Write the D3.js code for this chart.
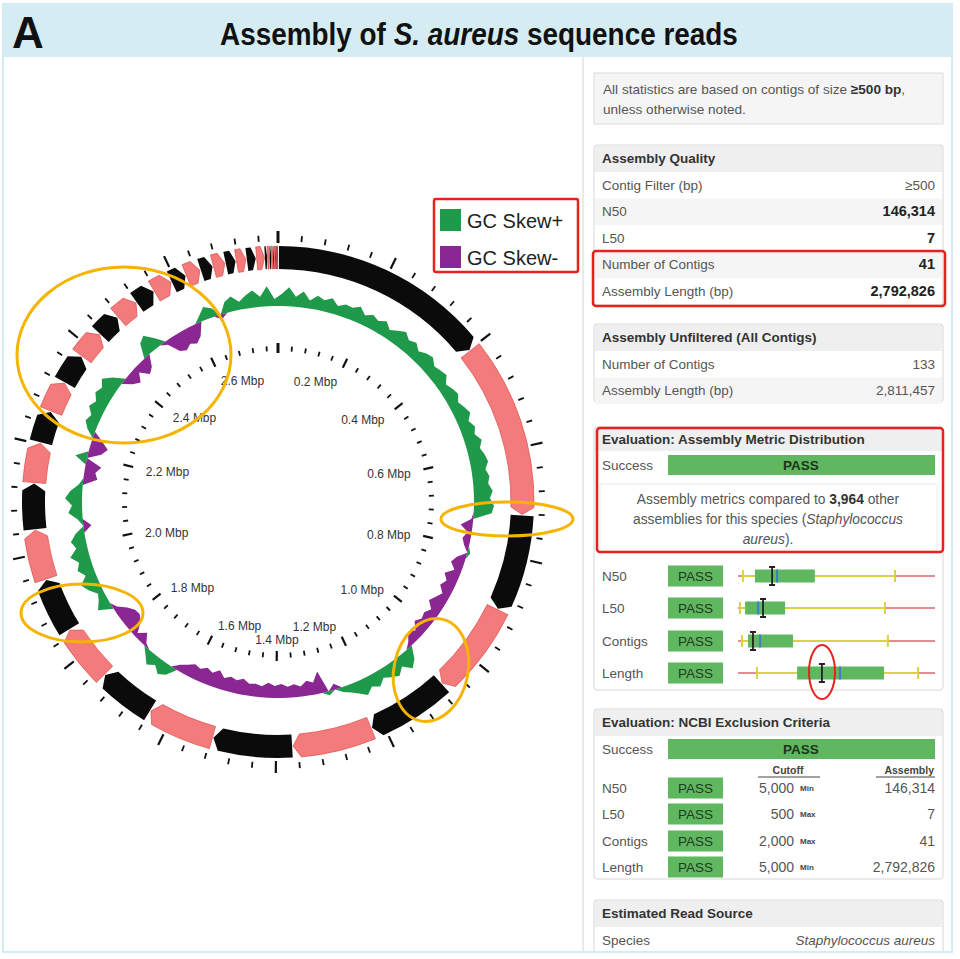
<!DOCTYPE html>
<html>
<head>
<meta charset="utf-8">
<script src="https://cdn.jsdelivr.net/npm/d3@7"></script>
<style>
  body { margin: 0; background: #fff; }
  svg { display: block; font-family: "Liberation Sans", Arial, sans-serif; }
</style>
</head>
<body>
<svg id="chart" width="960" height="959"></svg>
<script>
// genome + contigs (bp), largest first
const genomeLength = 2792826;
const contigLengths = [400000, 321000, 178000, 170000, 152000, 148000, 146314, 124000, 106000, 104000,
  101000, 93000, 85000, 74000, 60000, 58000, 57000, 52000, 45000, 43000,
  38000, 36000, 29000, 28000, 24000, 23000, 20000, 19000, 18000, 16000,
  5000, 4100, 3300, 2700, 2200, 1900, 1600, 1300, 1000, 800, 612];

// GC skew per window (180 windows round the genome)
const gcSkew = [
  0.12, 0.19, 0.10, 0.16, 0.08, 0.14, 0.11, 0.15, 0.09, 0.13,
  0.12, 0.16, 0.10, 0.14, 0.11, 0.15, 0.09, 0.13, 0.17, 0.12,
  0.15, 0.10, 0.14, 0.16, 0.11, 0.13, 0.15, 0.09, 0.12, 0.14,
  0.10, 0.13, 0.16, 0.11, 0.15, 0.12, 0.17, 0.13, 0.16, 0.18,
  0.14, 0.17, 0.15, 0.19, 0.16, 0.20, 0.18, -0.02, -0.12, -0.04,
  -0.08, -0.05, 0.03, -0.09, -0.13, -0.07, -0.15, -0.10, -0.14, -0.08,
  -0.12, -0.16, -0.09, -0.13, -0.11, -0.15, -0.08, -0.12, -0.05, 0.12,
  0.18, 0.10, 0.16, 0.13, 0.09, 0.15, 0.11, 0.17, 0.12, 0.08,
  0.05, -0.06, 0.04, -0.22, -0.12, -0.15, -0.10, -0.13, -0.11, -0.14,
  -0.12, -0.15, -0.11, -0.13, -0.12, -0.16, -0.13, -0.15, -0.12, -0.18,
  -0.13, -0.16, -0.12, -0.14, -0.10, -0.06, 0.10, 0.14, 0.08, 0.13,
  0.06, -0.03, -0.11, -0.04, -0.14, -0.18, -0.17, -0.12, -0.04, 0.14,
  0.09, 0.06, 0.13, 0.18, 0.10, 0.16, 0.12, 0.19, 0.11, 0.15,
  0.09, -0.08, 0.05, 0.14, 0.10, 0.17, 0.12, 0.04, -0.14, -0.11,
  -0.16, 0.12, -0.13, -0.18, -0.10, 0.08, 0.13, 0.10, 0.16, 0.12,
  0.17, 0.14, 0.19, 0.11, -0.09, -0.14, -0.06, -0.15, -0.11, 0.14,
  0.18, 0.09, -0.04, -0.16, -0.19, -0.15, -0.18, -0.13, 0.06, 0.13,
  0.09, -0.05, 0.11, 0.15, 0.08, 0.13, 0.17, 0.10, 0.20, 0.07
];

const tickLabelValues = [0.2, 0.4, 0.6, 0.8, 1.0, 1.2, 1.4, 1.6, 1.8, 2.0, 2.2, 2.4, 2.6];
const legendLabels = ["GC Skew+", "GC Skew-"];

// right hand tables
const qualityLabels = ["Contig Filter (bp)", "N50", "L50", "Number of Contigs", "Assembly Length (bp)"];
const qualityValues = ["\u2265500", "146,314", "7", "41", "2,792,826"];
const unfilteredLabels = ["Number of Contigs", "Assembly Length (bp)"];
const unfilteredValues = ["133", "2,811,457"];

// metric distribution (percent of the box-plot track)
const metricNames = ["N50", "L50", "Contigs", "Length"];
const metricLow = [2.5, 1, 2, 9.6];
const metricQ1 = [8.6, 3.6, 5.1, 30];
const metricMedian = [19.8, 10.2, 11.2, 51.8];
const metricQ3 = [39, 23.9, 27.9, 74.1];
const metricHigh = [79.7, 74.6, 76.1, 91.4];
const metricValue = [17.3, 12.7, 7.6, 42.6];

const ncbiCutoff = ["5,000", "500", "2,000", "5,000"];
const ncbiCutoffType = ["Min", "Max", "Max", "Min"];
const ncbiAssembly = ["146,314", "7", "41", "2,792,826"];

const svg = d3.select("#chart");
const fs = 13.5; // panel text size

// frame + header
svg.append("rect").attr("x", 3).attr("y", 4).attr("width", 949).attr("height", 948)
  .attr("fill", "#fff").attr("stroke", "#d3ecf1").attr("stroke-width", 2);
svg.append("rect").attr("x", 3).attr("y", 4).attr("width", 949).attr("height", 53).attr("fill", "#d5edf2");
svg.append("text").attr("x", 12).attr("y", 48).attr("font-size", 44).attr("font-weight", "bold")
  .attr("fill", "#111").text("A");
// title is a condensed face in the original: squeeze it horizontally
const title = svg.append("text").attr("x", 0).attr("y", 45)
  .attr("font-size", 31).attr("font-weight", "bold").attr("fill", "#111");
title.append("tspan").text("Assembly of ");
title.append("tspan").attr("font-style", "italic").text("S. aureus");
title.append("tspan").text(" sequence reads");
const titleW = title.node().getComputedTextLength();
const sx = 518 / titleW;
title.attr("transform", `translate(${479 - 259},0) scale(${sx},1)`);

svg.append("line").attr("x1", 583).attr("x2", 583).attr("y1", 57).attr("y2", 952)
  .attr("stroke", "#e3e3e3").attr("stroke-width", 1.5);

// ---------- circular plot ----------
const cx = 278, cy = 502;
const angle = d3.scaleLinear().domain([0, genomeLength]).range([0, 2 * Math.PI]);
const g = svg.append("g").attr("transform", `translate(${cx},${cy})`);

// contig ring with arrow heads
const ringIn = 233, ringOut = 256;
const starts = d3.cumsum([0].concat(contigLengths.slice(0, -1)));
const sa = a => a - Math.PI / 2;
const pt = (r, a) => [r * Math.cos(sa(a)), r * Math.sin(sa(a))];
function contigPath(a0, a1) {
  const span = a1 - a0;
  const gap = Math.min(0.004, span * 0.15);
  const head = Math.min(0.03, span * 0.4);
  a0 += gap;
  const rm = (ringIn + ringOut) / 2;
  const p = d3.path();
  p.moveTo(...pt(ringOut, a0));
  p.arc(0, 0, ringOut, sa(a0), sa(a1 - head));
  p.lineTo(...pt(rm, a1));
  p.lineTo(...pt(ringIn, a1 - head));
  p.arc(0, 0, ringIn, sa(a1 - head), sa(a0), true);
  p.closePath();
  return p.toString();
}
g.selectAll("path.contig").data(contigLengths).enter().append("path")
  .attr("class", "contig")
  .attr("d", (d, i) => contigPath(angle(starts[i]), angle(starts[i] + d)))
  .attr("fill", (d, i) => i % 2 === 0 ? "#0b0b0b" : "#f47b7b")
  .attr("stroke", (d, i) => i % 2 === 0 ? "none" : "#e25555")
  .attr("stroke-width", 0.8);

// tick marks, every 40 kbp, longer at 0.2 Mbp
const tickPos = d3.range(0, genomeLength, 40000);
const isMajor = d => d % 200000 === 0;
function tickRing(r0, r1, rMajor0, rMajor1) {
  g.append("g").selectAll("line").data(tickPos).enter().append("line")
    .attr("x1", d => pt(isMajor(d) ? rMajor0 : r0, angle(d))[0])
    .attr("y1", d => pt(isMajor(d) ? rMajor0 : r0, angle(d))[1])
    .attr("x2", d => pt(isMajor(d) ? rMajor1 : r1, angle(d))[0])
    .attr("y2", d => pt(isMajor(d) ? rMajor1 : r1, angle(d))[1])
    .attr("stroke", "#111")
    .attr("stroke-width", d => d === 0 ? 3 : (isMajor(d) ? 2.2 : 1.8));
}
tickRing(261, 267, 259, 271);
tickRing(151, 156, 149, 159);

// Mbp labels
g.append("g").selectAll("text").data(tickLabelValues).enter().append("text")
  .attr("x", d => pt(136, angle(d * 1e6))[0])
  .attr("y", d => pt(136, angle(d * 1e6))[1] + 2)
  .attr("dy", "0.35em")
  .attr("text-anchor", d => {
    const a = angle(d * 1e6) * 180 / Math.PI;
    return Math.abs(a - 180) < 4 ? "middle" : (a < 180 ? "end" : "start");
  })
  .attr("font-size", 12).attr("fill", "#333")
  .text(d => d.toFixed(1) + " Mbp");

// GC skew
const skewBase = 196;
const skewR = d3.scaleLinear().domain([-0.2, 0.2]).range([skewBase - 20, skewBase + 20]);
const winSize = genomeLength / gcSkew.length;
const gcPoints = gcSkew.map((v, i) => ({ a: angle((i + 0.5) * winSize), v }));
gcPoints.push({ a: gcPoints[0].a + 2 * Math.PI, v: gcSkew[0] });
gcPoints.unshift({ a: gcPoints[gcPoints.length - 2].a - 2 * Math.PI, v: gcSkew[gcSkew.length - 1] });
const posArea = d3.areaRadial().angle(d => d.a)
  .innerRadius(skewR(0)).outerRadius(d => skewR(Math.max(0, d.v)));
const negArea = d3.areaRadial().angle(d => d.a)
  .innerRadius(skewR(0)).outerRadius(d => skewR(Math.min(0, d.v)));
g.append("path").datum(gcPoints).attr("d", posArea).attr("fill", "#1f9a4b");
g.append("path").datum(gcPoints).attr("d", negArea).attr("fill", "#8a2793");

// legend
const legendColors = ["#1f9a4b", "#8a2793"];
svg.append("rect").attr("x", 434).attr("y", 199).attr("width", 144).attr("height", 73).attr("rx", 2)
  .attr("fill", "none").attr("stroke", "#e8211d").attr("stroke-width", 2.5);
legendLabels.forEach((t, i) => {
  svg.append("rect").attr("x", 440).attr("y", 209 + i * 37).attr("width", 21).attr("height", 22)
    .attr("fill", legendColors[i]);
  svg.append("text").attr("x", 467).attr("y", 228 + i * 37).attr("font-size", 20).attr("fill", "#222").text(t);
});

// highlight ellipses
const hl = svg.append("g").attr("fill", "none").attr("stroke", "#f4b400").attr("stroke-width", 3);
hl.append("ellipse").attr("cx", 124).attr("cy", 355).attr("rx", 107).attr("ry", 88);
hl.append("ellipse").attr("cx", 507).attr("cy", 519).attr("rx", 66).attr("ry", 17);
hl.append("ellipse").attr("cx", 82).attr("cy", 613).attr("rx", 61).attr("ry", 29);
hl.append("ellipse").attr("cx", 431).attr("cy", 670).attr("rx", 37).attr("ry", 52)
  .attr("transform", "rotate(12,431,670)");

// ---------- right panel ----------
const px = 594, pw = 349, rowH = 26.5;
const rp = svg.append("g");

function box(y, h) {
  rp.append("rect").attr("x", px).attr("y", y).attr("width", pw).attr("height", h).attr("rx", 3)
    .attr("fill", "#fff").attr("stroke", "#d6d6d6");
}
function header(y, h, text) {
  rp.append("rect").attr("x", px + 1).attr("y", y + 1).attr("width", pw - 2).attr("height", h - 1).attr("fill", "#efeff0");
  rp.append("text").attr("x", px + 8).attr("y", y + h / 2 + 4.5).attr("font-size", fs)
    .attr("font-weight", "bold").attr("fill", "#333").text(text);
}
function rows(y, labels, values, boldVals) {
  labels.forEach((l, i) => {
    const ry = y + i * rowH;
    if (i % 2 === 1) rp.append("rect").attr("x", px + 1).attr("y", ry).attr("width", pw - 2).attr("height", rowH).attr("fill", "#f5f5f6");
    rp.append("text").attr("x", px + 8).attr("y", ry + rowH / 2 + 4.5).attr("font-size", fs).attr("fill", "#555").text(l);
    rp.append("text").attr("x", px + pw - 8).attr("y", ry + rowH / 2 + 4.5).attr("text-anchor", "end")
      .attr("font-size", boldVals && i > 0 ? 14.5 : fs).attr("fill", boldVals && i > 0 ? "#222" : "#555")
      .attr("font-weight", boldVals && i > 0 ? "bold" : "normal").text(values[i]);
  });
}

// note
rp.append("rect").attr("x", px).attr("y", 73).attr("width", pw).attr("height", 51).attr("fill", "#f5f5f5").attr("stroke", "#dcdcdc");
const note1 = rp.append("text").attr("x", 603).attr("y", 94).attr("font-size", 13.6).attr("fill", "#555");
note1.append("tspan").text("All statistics are based on contigs of size ");
note1.append("tspan").attr("font-weight", "bold").attr("fill", "#333").text("\u2265500 bp");
note1.append("tspan").text(",");
rp.append("text").attr("x", 603).attr("y", 114).attr("font-size", 13.6).attr("fill", "#555").text("unless otherwise noted.");

// assembly quality
box(145, 160);
header(145, 27, "Assembly Quality");
rows(172, qualityLabels, qualityValues, true);

// unfiltered
box(324, 78);
header(324, 27, "Assembly Unfiltered (All Contigs)");
rows(351, unfilteredLabels, unfilteredValues, false);

// metric distribution
box(427, 263);
header(427, 24, "Evaluation: Assembly Metric Distribution");
const green = "#5fb85f";
function successRow(y) {
  rp.append("text").attr("x", px + 8).attr("y", y + 4.5).attr("font-size", fs).attr("fill", "#555").text("Success");
  rp.append("rect").attr("x", 668).attr("y", y - 10).attr("width", 267).attr("height", 20).attr("fill", green);
  rp.append("text").attr("x", 801).attr("y", y + 5).attr("text-anchor", "middle").attr("font-size", 13.5)
    .attr("font-weight", "bold").attr("fill", "#1c331c").text("PASS");
}
successRow(465);
rp.append("rect").attr("x", 600).attr("y", 484).attr("width", 337).attr("height", 66).attr("fill", "#fff").attr("stroke", "#ececec");
const mfs = 13.8;
const m1 = rp.append("text").attr("x", 768).attr("y", 504).attr("text-anchor", "middle").attr("font-size", mfs).attr("fill", "#555");
m1.append("tspan").text("Assembly metrics compared to ");
m1.append("tspan").attr("font-weight", "bold").attr("fill", "#333").text("3,964");
m1.append("tspan").text(" other");
const m2 = rp.append("text").attr("x", 768).attr("y", 524).attr("text-anchor", "middle").attr("font-size", mfs).attr("fill", "#555");
m2.append("tspan").text("assemblies for this species (");
m2.append("tspan").attr("font-style", "italic").text("Staphylococcus");
const m3 = rp.append("text").attr("x", 768).attr("y", 544).attr("text-anchor", "middle").attr("font-size", mfs).attr("fill", "#555");
m3.append("tspan").attr("font-style", "italic").text("aureus");
m3.append("tspan").text(").");

function passButton(y) {
  rp.append("rect").attr("x", 668).attr("y", y - 10.5).attr("width", 55).attr("height", 21).attr("fill", green);
  rp.append("text").attr("x", 695.5).attr("y", y + 5).attr("text-anchor", "middle").attr("font-size", 13.5)
    .attr("fill", "#1f3a1f").text("PASS");
}

const bx = d3.scaleLinear().domain([0, 100]).range([738, 935]);
const metricY = [576, 608, 641, 673];
metricNames.forEach((n, i) => {
  const y = metricY[i];
  rp.append("text").attr("x", px + 8).attr("y", y + 4.5).attr("font-size", fs).attr("fill", "#555").text(n);
  passButton(y);
  rp.append("line").attr("x1", bx(0)).attr("x2", bx(100)).attr("y1", y).attr("y2", y).attr("stroke", "#d96868").attr("stroke-width", 1.6);
  rp.append("line").attr("x1", bx(metricLow[i])).attr("x2", bx(metricHigh[i])).attr("y1", y).attr("y2", y).attr("stroke", "#d9d245").attr("stroke-width", 2.2);
  [metricLow[i], metricHigh[i]].forEach(v => {
    rp.append("line").attr("x1", bx(v)).attr("x2", bx(v)).attr("y1", y - 6).attr("y2", y + 6).attr("stroke", "#d9d245").attr("stroke-width", 2);
  });
  rp.append("rect").attr("x", bx(metricQ1[i])).attr("y", y - 6.5).attr("width", bx(metricQ3[i]) - bx(metricQ1[i])).attr("height", 13).attr("fill", green);
  rp.append("line").attr("x1", bx(metricMedian[i])).attr("x2", bx(metricMedian[i])).attr("y1", y - 6.5).attr("y2", y + 6.5).attr("stroke", "#3c7fc6").attr("stroke-width", 2);
  const vx = bx(metricValue[i]);
  rp.append("path").attr("d", `M${vx - 3},${y - 9}H${vx + 3}M${vx},${y - 9}V${y + 9}M${vx - 3},${y + 9}H${vx + 3}`)
    .attr("stroke", "#222").attr("stroke-width", 1.8).attr("fill", "none");
});
// red highlights
svg.append("rect").attr("x", 593).attr("y", 251).attr("width", 352).attr("height", 55).attr("rx", 3)
  .attr("fill", "none").attr("stroke", "#e8211d").attr("stroke-width", 2.5);
svg.append("rect").attr("x", 597).attr("y", 428).attr("width", 346).attr("height", 124).attr("rx", 3)
  .attr("fill", "none").attr("stroke", "#e8211d").attr("stroke-width", 2.5);
svg.append("ellipse").attr("cx", 822).attr("cy", 672).attr("rx", 13).attr("ry", 27)
  .attr("fill", "none").attr("stroke", "#e8211d").attr("stroke-width", 2);

// NCBI criteria
box(709, 170);
header(709, 27, "Evaluation: NCBI Exclusion Criteria");
successRow(749);
rp.append("text").attr("x", 788).attr("y", 774).attr("text-anchor", "middle").attr("font-size", 10.5)
  .attr("font-weight", "bold").attr("fill", "#444").text("Cutoff");
rp.append("line").attr("x1", 758).attr("x2", 820).attr("y1", 777).attr("y2", 777).attr("stroke", "#444");
rp.append("text").attr("x", 934).attr("y", 774).attr("text-anchor", "end").attr("font-size", 10.5)
  .attr("font-weight", "bold").attr("fill", "#444").text("Assembly");
rp.append("line").attr("x1", 876).attr("x2", 935).attr("y1", 777).attr("y2", 777).attr("stroke", "#444");
const ncbiY = [788, 814, 841, 867];
metricNames.forEach((n, i) => {
  const y = ncbiY[i];
  rp.append("text").attr("x", px + 8).attr("y", y + 4.5).attr("font-size", fs).attr("fill", "#555").text(n);
  passButton(y);
  rp.append("text").attr("x", 794).attr("y", y + 5).attr("text-anchor", "end").attr("font-size", 14).attr("fill", "#555").text(ncbiCutoff[i]);
  rp.append("text").attr("x", 800).attr("y", y + 3).attr("font-size", 8).attr("font-weight", "bold").attr("fill", "#444").text(ncbiCutoffType[i]);
  rp.append("text").attr("x", 935).attr("y", y + 5).attr("text-anchor", "end").attr("font-size", 14).attr("fill", "#555").text(ncbiAssembly[i]);
});

// read source (cut off at the bottom)
box(900, 60);
header(900, 27, "Estimated Read Source");
rp.append("text").attr("x", px + 8).attr("y", 945).attr("font-size", fs).attr("fill", "#555").text("Species");
rp.append("text").attr("x", 935).attr("y", 945).attr("text-anchor", "end").attr("font-size", fs)
  .attr("font-style", "italic").attr("fill", "#555").text("Staphylococcus aureus");
svg.append("rect").attr("x", 0).attr("y", 953).attr("width", 960).attr("height", 6).attr("fill", "#fff");
svg.append("line").attr("x1", 3).attr("x2", 952).attr("y1", 952).attr("y2", 952).attr("stroke", "#d3ecf1").attr("stroke-width", 2);
svg.append("line").attr("x1", 952).attr("x2", 952).attr("y1", 4).attr("y2", 952).attr("stroke", "#d3ecf1").attr("stroke-width", 2);
</script>
</body>
</html>
